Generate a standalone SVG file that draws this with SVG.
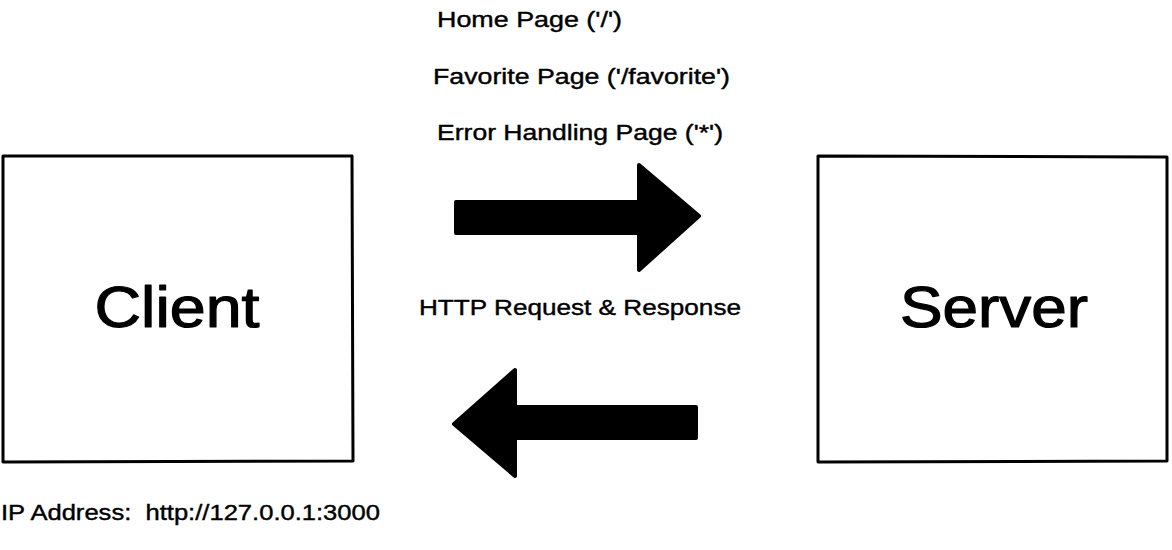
<svg xmlns="http://www.w3.org/2000/svg" width="1172" height="550" viewBox="0 0 1172 550">
<style>
.box{fill:#fff;stroke:#000;stroke-width:3;stroke-linejoin:round}
.big{font-family:"Liberation Sans",Arial,sans-serif;font-size:58px;fill:#000;stroke:#000;stroke-width:1.2;stroke-linejoin:round}
.lbl{font-family:"Liberation Sans",Arial,sans-serif;font-size:22px;fill:#000;stroke:#000;stroke-width:0.4}
.arrow{fill:#000;stroke:#000;stroke-width:4;stroke-linejoin:round}
</style>
<rect width="1172" height="550" fill="#fff"/>
<g id="client">
<path class="box" d="M3,156 L352,156 L353,461 L3,462 Z"/>
<text class="big" x="177" y="327" text-anchor="middle" textLength="165" lengthAdjust="spacingAndGlyphs">Client</text>
</g>
<g id="server">
<path class="box" d="M818,156 L1167,157 L1167,461 L818,462 Z"/>
<text class="big" x="994" y="327" text-anchor="middle" textLength="188" lengthAdjust="spacingAndGlyphs">Server</text>
</g>
<g id="connectors">
<path class="arrow" d="M456,202 L639,202 L639,165 L699,216 L639,270 L639,233 L456,233 Z"/>
<path class="arrow" d="M696,407 L515,407 L515,370 L454,424 L515,476 L515,438 L696,438 Z"/>
</g>
<g id="labels">
<text class="lbl" x="437" y="27" textLength="185" lengthAdjust="spacingAndGlyphs">Home Page ('/')</text>
<text class="lbl" x="433" y="84" textLength="297" lengthAdjust="spacingAndGlyphs">Favorite Page ('/favorite')</text>
<text class="lbl" x="437" y="140" textLength="286" lengthAdjust="spacingAndGlyphs">Error Handling Page ('*')</text>
<text class="lbl" x="419" y="315" textLength="322" lengthAdjust="spacingAndGlyphs">HTTP Request &amp; Response</text>
<text class="lbl" x="1" y="520" xml:space="preserve" textLength="379" lengthAdjust="spacingAndGlyphs">IP Address:  http://127.0.0.1:3000</text>
</g>
</svg>
